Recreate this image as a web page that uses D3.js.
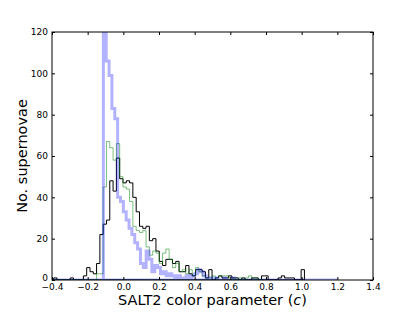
<!DOCTYPE html>
<html>
<head>
<meta charset="utf-8">
<script src="https://cdn.jsdelivr.net/npm/d3@7"></script>
<style>
  body { margin: 0; background: #fff; }
  svg text { font-family: "DejaVu Sans", sans-serif; }
</style>
</head>
<body>
<div id="chart"></div>
<script>
// bins: black + green share edges, blue has its own (100 bins over -0.4..1.2)
var edgeStart = -0.3905;
var edgeWidth = 0.0185;
var blueStart = -0.4;
var blueWidth = 0.016;

var blackCounts = [1,0,0,0,0,1,0,0,0,2,6,4,3,8,22,27,29,48,43,59,
  49,47,48,47,40,33,26,25,26,19,20,14,9,7,10,10,8,9,4,4,
  7,3,2,5,5,4,1,5,0,1,2,1,1,2,1,1,0,1,0,0,
  1,1,0,2,2,0,0,0,1,2,1,1,1,0,0,5];

var greenCounts = [0,0,0,0,0,0,0,0,0,0,0,0,0,3,3,45,67,64,58,66,
  50,45,44,38,26,24,23,24,16,12,14,13,8,13,15,10,6,8,4,5,
  3,5,2,6,4,2,1,1,2,1,2,2,2,1,1,0,1,0,1,2,
  1,1,0,0];

var blueCounts = [0,0,0,0,0,0,0,0,0,0,0,0,0,0,0,0,0,0,130,106,
  99,83,78,40,38,33,29,25,22,18,15,8,6,14,10,4,7,6,3,4,
  2,3,2,1,2,1,1,2,1,2,3,5,4,2,1,1,0,1,0,0,
  1,0,0,1,0,0,0,0,0,0,0,0,0,0,0,0,0,0,0,0,
  0,0,0,0,0,0,0,0,0,0,0,0,0,0,0,0,0,0,0,0];

var xTicks = [-0.4,-0.2,0.0,0.2,0.4,0.6,0.8,1.0,1.2,1.4];
var yTicks = [0,20,40,60,80,100,120];

var W = 415, H = 312;
var margin = {top: 32, right: 42, bottom: 32, left: 52};

var svg = d3.select("#chart").append("svg")
    .attr("width", W).attr("height", H);

var x = d3.scaleLinear().domain([-0.4, 1.4]).range([margin.left, W - margin.right]);
var y = d3.scaleLinear().domain([0, 120]).range([H - margin.bottom, margin.top]);

svg.append("clipPath").attr("id", "plotclip")
  .append("rect")
    .attr("x", margin.left).attr("y", margin.top)
    .attr("width", W - margin.left - margin.right)
    .attr("height", H - margin.top - margin.bottom);

// step outline, closed along the baseline like mpl histtype='step'
function stepPoints(start, width, counts) {
  var pts = [[start, 0]];
  counts.forEach(function(c, i) {
    pts.push([start + i * width, c]);
    pts.push([start + (i + 1) * width, c]);
  });
  pts.push([start + counts.length * width, 0]);
  return pts;
}

var line = d3.line()
    .x(function(d) { return x(d[0]); })
    .y(function(d) { return y(d[1]); });

var g = svg.append("g").attr("clip-path", "url(#plotclip)");

g.append("path")
    .attr("d", line(stepPoints(edgeStart, edgeWidth, blackCounts)) + "Z")
    .attr("fill", "none").attr("stroke", "#000").attr("stroke-width", 1);

g.append("path")
    .attr("d", line(stepPoints(edgeStart, edgeWidth, greenCounts)) + "Z")
    .attr("fill", "none").attr("stroke", "rgba(0,128,0,0.5)").attr("stroke-width", 1);

g.append("path")
    .attr("d", line(stepPoints(blueStart, blueWidth, blueCounts)) + "Z")
    .attr("fill", "none").attr("stroke", "rgba(0,0,255,0.3)").attr("stroke-width", 3)
    .attr("stroke-linejoin", "miter");

// axes, ticks pointing in on all four sides
var fmtX = d3.format(".1f");

var xb = svg.append("g")
    .attr("transform", "translate(0," + (H - margin.bottom) + ")")
    .call(d3.axisBottom(x).tickValues(xTicks).tickFormat(fmtX).tickSizeInner(-3).tickSizeOuter(0).tickPadding(4));
var xt = svg.append("g")
    .attr("transform", "translate(0," + margin.top + ")")
    .call(d3.axisTop(x).tickValues(xTicks).tickFormat("").tickSizeInner(-3).tickSizeOuter(0));
var yl = svg.append("g")
    .attr("transform", "translate(" + margin.left + ",0)")
    .call(d3.axisLeft(y).tickValues(yTicks).tickSizeInner(-3).tickSizeOuter(0).tickPadding(4));
var yr = svg.append("g")
    .attr("transform", "translate(" + (W - margin.right) + ",0)")
    .call(d3.axisRight(y).tickValues(yTicks).tickFormat("").tickSizeInner(-3).tickSizeOuter(0));

[xb, xt, yl, yr].forEach(function(a) {
  a.select(".domain").remove();
  a.selectAll("line").attr("stroke", "#000").attr("stroke-width", 1);
  a.selectAll("text").attr("font-size", 9).attr("fill", "#000")
    .attr("font-family", "DejaVu Sans, sans-serif");
});
// lift the bottom y label a touch so it clears the first x label
yl.selectAll("text").filter(function(d) { return d === 0; }).attr("dy", "0.1em");

svg.append("rect")
    .attr("x", margin.left).attr("y", margin.top)
    .attr("width", W - margin.left - margin.right)
    .attr("height", H - margin.top - margin.bottom)
    .attr("fill", "none").attr("stroke", "#000").attr("stroke-width", 1);

// labels
var xl = svg.append("text")
    .attr("x", (margin.left + W - margin.right) / 2)
    .attr("y", H - 7)
    .attr("text-anchor", "middle")
    .attr("font-size", 14.5);
xl.append("tspan").text("SALT2 color parameter (");
xl.append("tspan").attr("font-style", "italic").text("c");
xl.append("tspan").text(")");

svg.append("text")
    .attr("transform", "translate(27," + ((margin.top + H - margin.bottom) / 2) + ") rotate(-90)")
    .attr("text-anchor", "middle")
    .attr("font-size", 14.5)
    .text("No. supernovae");
</script>
</body>
</html>
